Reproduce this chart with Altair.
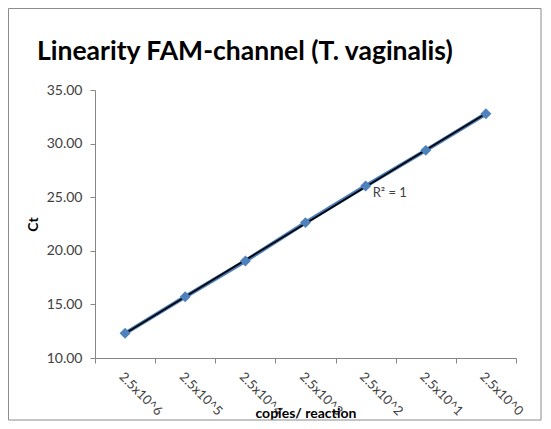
import altair as alt
import numpy as np
import pandas as pd

labels = ["2.5x10^6", "2.5x10^5", "2.5x10^4", "2.5x10^3", "2.5x10^2", "2.5x10^1", "2.5x10^0"]
ct = [12.30, 15.71, 19.05, 22.63, 26.04, 29.37, 32.78]
y_ticks = [10, 15, 20, 25, 30, 35]

idx = np.arange(1, len(ct) + 1)
slope, intercept = np.polyfit(idx, ct, 1)
fit = (slope * idx + intercept).tolist()

df = pd.DataFrame({"label": labels, "ct": ct, "fit": fit})

FONT = "Lato"
W, H = 421, 268

x = alt.X("label:N", sort=labels,
          scale=alt.Scale(paddingInner=0, paddingOuter=0),
          axis=alt.Axis(title="copies/ reaction", labelAngle=45, labelAlign="left",
                        labelBaseline="top", labelPadding=7, labelFontSize=13,
                        tickBand="extent",
                        titleY=59, titleBaseline="alphabetic", titleFontSize=14))
y = alt.Y("ct:Q", scale=alt.Scale(domain=[10, 35], nice=False),
          axis=alt.Axis(title="Ct", values=y_ticks, format=".2f", titleX=-55,
                        labelPadding=8, titleFontSize=14))

base = alt.Chart(df)
series_line = base.mark_line(color="#4A7EBB", strokeWidth=4).encode(x=x, y=y)
points = base.mark_point(shape="diamond", filled=True, size=120, color="#4F81BD", opacity=1).encode(x=x, y=y)
trend = base.mark_line(color="#000000", strokeWidth=1.8).encode(x=x, y=alt.Y("fit:Q"))

r2_df = pd.DataFrame({"label": [labels[4]], "ct": [25.36], "txt": ["R² = 1"]})
r2 = alt.Chart(r2_df).mark_text(align="left", baseline="middle", dx=7, font=FONT,
                                 fontSize=13, color="#404040").encode(
    x=alt.X("label:N", sort=labels), y=alt.Y("ct:Q"), text="txt:N")

frame = alt.Chart(alt.Data(values=[{}])).mark_rect(
    fill="transparent", stroke="#8c8c8c", strokeWidth=1).encode(
    x=alt.value(-86.5), x2=alt.value(446), y=alt.value(-81.5), y2=alt.value(330))

chart = alt.layer(frame, series_line, trend, points, r2).properties(
    width=W, height=H,
    title=alt.TitleParams("Linearity FAM-channel (T. vaginalis)", anchor="start",
                          frame="group",
                          font=FONT, fontSize=26.5, fontWeight="bold", color="#000000",
                          baseline="alphabetic", dx=-58, dy=78, offset=0),
    autosize=alt.AutoSizeParams(type="none"),
    padding={"left": 87, "top": 82, "right": 27, "bottom": 63},
).configure_view(strokeWidth=0).configure_axis(
    grid=False, domainColor="#868686", tickColor="#868686", tickSize=5,
    labelFont=FONT, labelFontSize=14, labelColor="#404040",
    titleFont=FONT, titleFontSize=13, titleFontWeight="bold", titleColor="#000000",
)

chart.save("out.html", embed_options={"renderer": "svg", "actions": False})
